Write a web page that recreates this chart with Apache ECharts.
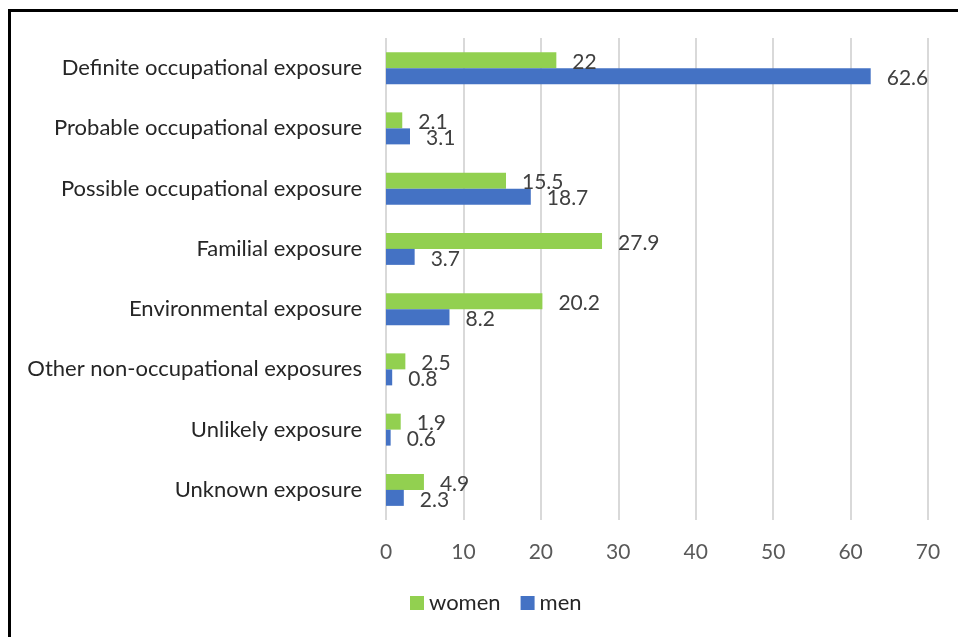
<!DOCTYPE html>
<html>
<head>
<meta charset="utf-8">
<script src="https://cdn.jsdelivr.net/npm/echarts@6/dist/echarts.min.js"></script>
<style>
  html, body { margin: 0; padding: 0; background: #fff; }
  #frame { position: absolute; left: 8px; top: 9px; width: 960px; height: 640px;
           border-left: 3px solid #000; border-top: 3px solid #000; }
  #chartDiv { position: absolute; left: 0; top: 0; width: 958px; height: 637px; }
</style>
</head>
<body>
<div id="frame"></div>
<div id="chartDiv"></div>
<script>
var categories = ['Definite occupational exposure', 'Probable occupational exposure',
  'Possible occupational exposure', 'Familial exposure', 'Environmental exposure',
  'Other non-occupational exposures', 'Unlikely exposure', 'Unknown exposure'];
var women = [22, 2.1, 15.5, 27.9, 20.2, 2.5, 1.9, 4.9];
var men = [62.6, 3.1, 18.7, 3.7, 8.2, 0.8, 0.6, 2.3];

var font = 'Lato';
var myChart = echarts.init(document.getElementById('chartDiv'));

var option = {
    animation: false,
    legend: {
        bottom: 18,
        left: 405,
        itemWidth: 14,
        itemHeight: 14,
        itemGap: 20,
        icon: 'rect',
        textStyle: { color: '#262626', fontSize: 22, fontFamily: font },
        data: ['women', 'men']
    },
    grid: {
        left: 386,
        right: 30,
        top: 38,
        bottom: 117,
        containLabel: false
    },
    xAxis: {
        type: 'value',
        min: 0,
        max: 70,
        interval: 10,
        axisLine: { show: false },
        axisTick: { show: false },
        axisLabel: { color: '#595959', fontSize: 21, fontFamily: font, margin: 22 },
        splitLine: { lineStyle: { color: '#d9d9d9', width: 2 } }
    },
    yAxis: {
        type: 'category',
        inverse: true,
        data: categories,
        axisLine: { show: false },
        axisTick: { show: false },
        axisLabel: { color: '#262626', fontSize: 22, fontFamily: font, margin: 24 }
    },
    series: [
        {
            name: 'women',
            type: 'bar',
            barWidth: 16,
            barGap: '0%',
            itemStyle: { color: '#92D050' },
            label: { show: true, position: 'right', distance: 16, offset: [0, 2],
                     color: '#404040', fontSize: 21, fontFamily: font },
            data: women
        },
        {
            name: 'men',
            type: 'bar',
            barWidth: 16,
            barGap: '0%',
            itemStyle: { color: '#4472C4' },
            label: { show: true, position: 'right', distance: 16, offset: [0, 2],
                     color: '#404040', fontSize: 21, fontFamily: font },
            data: men
        }
    ]
};

myChart.setOption(option);
window.addEventListener('resize', function () {
    myChart.resize();
});
</script>
</body>
</html>
